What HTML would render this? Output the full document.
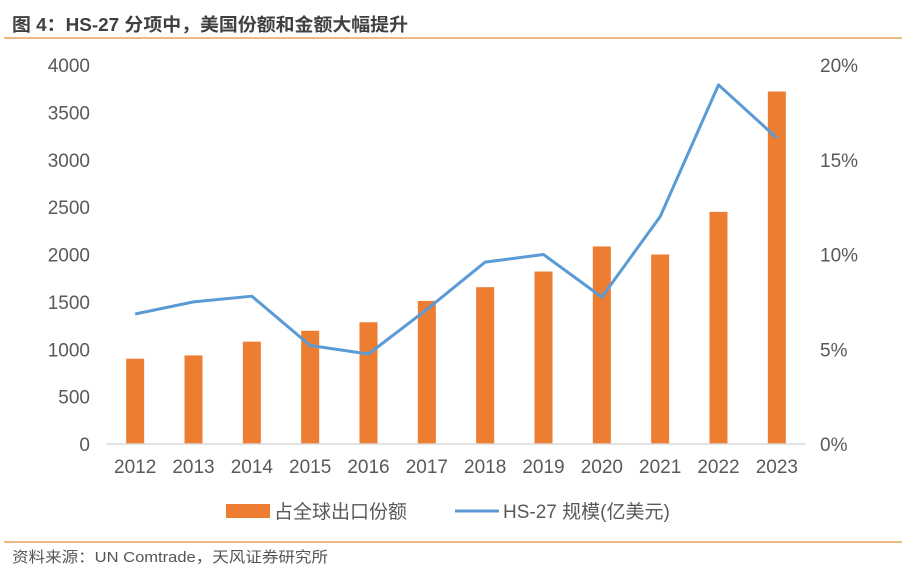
<!DOCTYPE html>
<html><head><meta charset="utf-8"><style>
body{margin:0;background:#fff;font-family:"Liberation Sans","Noto Sans CJK SC",sans-serif;}
svg text{font-family:"Liberation Sans","Noto Sans CJK SC",sans-serif;}
</style></head><body>
<svg id="c" width="906" height="570" xmlns="http://www.w3.org/2000/svg">
<text x="12" y="31" font-size="18" font-weight="bold" fill="#404040" textLength="396" lengthAdjust="spacingAndGlyphs">图 4：HS-27 分项中，美国份额和金额大幅提升</text>
<line x1="4" y1="38" x2="902" y2="38" stroke="#e8a255" stroke-width="1.5"/>
<line x1="4" y1="542" x2="902" y2="542" stroke="#e8a255" stroke-width="1.5"/>
<text x="12" y="562" font-size="15" fill="#555" textLength="316" lengthAdjust="spacingAndGlyphs">资料来源：UN Comtrade，天风证券研究所</text>
<g id="plot"></g>
<g>
<rect x="226" y="504" width="44" height="14" fill="#ed7d31"/>
<text x="274" y="518" font-size="19" fill="#595959">占全球出口份额</text>
<line x1="455" y1="511" x2="499" y2="511" stroke="#5b9bd5" stroke-width="3"/>
<text x="503" y="518" font-size="19" fill="#595959">HS-27 规模(亿美元)</text>
</g>
</svg>
<script>
const categories=["2012","2013","2014","2015","2016","2017","2018","2019","2020","2021","2022","2023"];
const barValues=[900,935,1080,1195,1285,1510,1655,1820,2085,2000,2450,3720];
const lineValues=[6.86,7.5,7.8,5.2,4.75,7.1,9.6,10.0,7.75,12.0,18.95,16.15];
const leftTicks=[0,500,1000,1500,2000,2500,3000,3500,4000];
const rightTicks=[0,5,10,15,20];
const NS="http://www.w3.org/2000/svg";
const g=document.getElementById('plot');
const x0=106,x1=806,y0=444,yTop=65;
const step=(x1-x0)/categories.length;
const xc=i=>x0+step*(i+0.5);
const yL=v=>y0-(v/4000)*(y0-yTop);
const yR=v=>y0-(v/20)*(y0-yTop);
function mk(t,a){const e=document.createElementNS(NS,t);for(const k in a)e.setAttribute(k,a[k]);g.appendChild(e);return e;}
leftTicks.forEach(v=>{const t=mk('text',{x:90,y:yL(v)+7,'font-size':19,fill:'#595959','text-anchor':'end'});t.textContent=v;

});
rightTicks.forEach(v=>{const t=mk('text',{x:820,y:yR(v)+7,'font-size':19,fill:'#595959'});t.textContent=v+'%';

});
barValues.forEach((v,i)=>{const r=mk('rect',{x:xc(i)-9,y:yL(v),width:18,height:y0-yL(v),fill:'#ed7d31'});

});
const ax=mk('line',{x1:x0,y1:y0,x2:x1,y2:y0,stroke:'#d9d9d9','stroke-width':1.5});


categories.forEach((c,i)=>{const t=mk('text',{x:xc(i),y:473,'font-size':19,fill:'#595959','text-anchor':'middle'});t.textContent=c;

});
const pts=lineValues.map((v,i)=>xc(i)+','+yR(v)).join(' ');
const pl=mk('polyline',{points:pts,fill:'none',stroke:'#5b9bd5','stroke-width':3,'stroke-linejoin':'round'});


</script>
</body></html>
